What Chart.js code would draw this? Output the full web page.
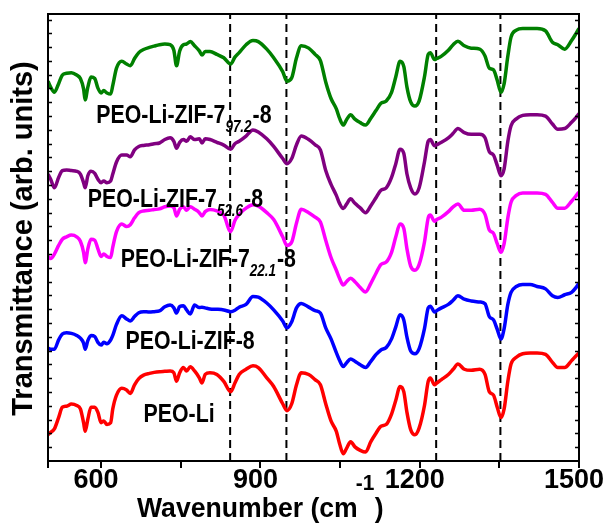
<!DOCTYPE html>
<html>
<head>
<meta charset="utf-8">
<script src="https://cdn.jsdelivr.net/npm/chart.js@4.4.1/dist/chart.umd.min.js"></script>
<style>
  html, body { margin: 0; padding: 0; background: #fff; }
</style>
</head>
<body>
<canvas id="ftir" width="608" height="523"></canvas>
<script>
// wavenumber grid (cm-1) shared by all spectra
const wavenumbers = [
  500, 505, 512, 520, 527, 535, 544, 554, 561, 567,
  570, 575, 581, 588, 594, 600, 605, 611, 618, 622,
  629, 639, 648, 655, 663, 671, 680, 691, 700, 710,
  720, 730, 737, 742, 748, 755, 761, 768, 776, 785,
  790, 796, 805, 818, 831, 844, 852, 860, 873, 886,
  896, 912, 925, 942, 950, 959, 968, 977, 991, 1003,
  1013, 1023, 1033, 1043, 1049, 1056, 1062, 1070, 1078, 1088,
  1098, 1108, 1118, 1127, 1137, 1147, 1155, 1163, 1170, 1176,
  1183, 1191, 1199, 1209, 1216, 1220, 1228, 1232, 1241, 1254,
  1263, 1272, 1284, 1297, 1313, 1323, 1331, 1339, 1346, 1353,
  1359, 1366, 1372, 1382, 1394, 1408, 1421, 1437, 1450, 1460,
  1473, 1486, 1495, 1500
]

// transmittance (arb. units)
const peoLi = [
  125, 132, 142, 175, 205, 208, 214, 210, 200, 160,
  135, 170, 205, 205, 190, 160, 165, 155, 160, 200,
  240, 260, 255, 245, 270, 288, 298, 303, 306, 308,
  309, 310, 305, 280, 305, 320, 310, 322, 310, 290,
  275, 300, 305, 300, 280, 250, 275, 300, 315, 325,
  320, 290, 265, 215, 195, 215, 270, 305, 300, 285,
  270, 215, 165, 135, 100, 70, 85, 105, 90, 80,
  75, 105, 130, 150, 155, 185, 225, 265, 250, 190,
  140, 125, 145, 210, 280, 290, 270, 275, 285, 300,
  315, 330, 315, 312, 315, 300, 250, 240, 205, 175,
  200, 280, 330, 350, 360, 362, 362, 358, 335, 320,
  320, 340, 355, 362
]
const peoLiZif8 = [
  173, 170, 170, 197, 214, 218, 216, 210, 202, 188,
  170, 195, 210, 207, 190, 182, 190, 186, 197, 210,
  242, 267, 258, 252, 265, 276, 279, 278, 279, 281,
  293, 298, 290, 275, 294, 296, 284, 272, 298, 291,
  292, 290, 287, 286, 284, 279, 283, 292, 300, 323,
  321, 304, 284, 252, 232, 250, 290, 303, 292, 282,
  275, 232, 200, 160, 138, 120, 130, 142, 135, 125,
  117, 135, 155, 168, 175, 200, 235, 270, 255, 205,
  165, 157, 172, 230, 290, 295, 278, 282, 290, 300,
  312, 325, 315, 310, 307, 302, 265, 255, 228, 200,
  230, 300, 335, 352, 358, 358, 352, 345, 325, 320,
  328, 335, 350, 362
]
const peoLiZif7_22 = [
  178, 172, 185, 210, 228, 235, 240, 235, 222, 190,
  160, 200, 228, 225, 200, 178, 185, 178, 175, 205,
  250, 272, 265, 270, 290, 305, 310, 312, 314, 316,
  322, 324, 320, 295, 315, 322, 312, 322, 315, 305,
  295, 308, 314, 310, 298, 250, 282, 300, 318, 328,
  324, 305, 285, 235, 210, 220, 275, 315, 305, 292,
  278, 225, 175, 138, 115, 95, 105, 115, 105, 88,
  75, 100, 130, 155, 162, 190, 235, 272, 260, 200,
  150, 138, 155, 220, 290, 298, 280, 285, 292, 308,
  322, 330, 312, 312, 315, 300, 255, 245, 215, 190,
  215, 290, 335, 355, 362, 362, 362, 358, 335, 318,
  318, 338, 355, 365
]
const peoLiZif7_52 = [
  200, 185, 160, 190, 210, 212, 210, 208, 200, 175,
  160, 195, 208, 202, 185, 175, 180, 175, 180, 200,
  235, 255, 255, 250, 270, 280, 283, 285, 288, 290,
  300, 305, 295, 275, 292, 300, 295, 308, 300, 302,
  290, 302, 300, 292, 284, 272, 288, 295, 310, 328,
  322, 302, 280, 245, 230, 245, 285, 310, 300, 285,
  270, 210, 170, 138, 115, 100, 112, 128, 115, 102,
  88, 108, 132, 153, 160, 190, 230, 272, 260, 200,
  160, 142, 160, 235, 295, 300, 282, 285, 292, 305,
  318, 332, 320, 315, 315, 305, 265, 255, 225, 195,
  215, 295, 340, 360, 370, 372, 372, 368, 345, 330,
  332, 350, 365, 375
]
const peoLiZif7_97 = [
  222, 205, 190, 215, 240, 245, 247, 240, 230, 200,
  168, 205, 234, 230, 202, 188, 195, 188, 185, 210,
  260, 280, 272, 267, 288, 305, 314, 320, 324, 328,
  330, 328, 312, 267, 310, 328, 330, 337, 325, 310,
  298, 308, 308, 300, 290, 272, 292, 305, 328, 340,
  337, 315, 290, 250, 222, 232, 290, 325, 318, 300,
  282, 220, 172, 142, 115, 95, 110, 125, 112, 102,
  95, 115, 138, 158, 165, 190, 235, 280, 265, 205,
  162, 150, 165, 235, 300, 305, 285, 288, 295, 312,
  328, 338, 325, 318, 315, 295, 260, 255, 225, 190,
  215, 295, 350, 370, 375, 375, 375, 368, 335, 328,
  315, 340, 362, 375
]

// vertical stacking of the spectra
const series = [
  { values: peoLi, offset: -49, color: '#ff0000' },
  { values: peoLiZif8, offset: 154, color: '#0000ff' },
  { values: peoLiZif7_22, offset: 415, color: '#ff00ff' },
  { values: peoLiZif7_52, offset: 632, color: '#800080' },
  { values: peoLiZif7_97, offset: 879, color: '#008000' }
]

const markerLines = [843, 949, 1231, 1352]
const xTicks = [500, 600, 750, 900, 1050, 1200, 1350, 1500]
const xTickLabels = [600, 900, 1200, 1500]
const yMax = 1296

const curveLabels = [
  { main: 'PEO-Li-ZIF-7', sub: '97.2', tail: '-8', x: 591, y: 980 },
  { main: 'PEO-Li-ZIF-7', sub: '52.6', tail: '-8', x: 575, y: 736 },
  { main: 'PEO-Li-ZIF-7', sub: '22.1', tail: '-8', x: 637, y: 562 },
  { main: 'PEO-Li-ZIF-8', x: 646, y: 325 },
  { main: 'PEO-Li', x: 680, y: 112 }
]

const FONT = '"Liberation Sans", Arial, sans-serif'

const datasets = series.map(s => ({
  data: wavenumbers.map((w, i) => ({ x: w, y: s.offset + s.values[i] })),
  borderColor: s.color,
  borderWidth: 3.5,
  pointRadius: 0,
  cubicInterpolationMode: 'monotone',
  order: 0
}))

markerLines.forEach(w => {
  datasets.push({
    data: [{ x: w, y: 0 }, { x: w, y: yMax }],
    borderColor: '#000',
    borderWidth: 2,
    borderDash: [8, 5],
    pointRadius: 0,
    order: 1
  })
})

function squeezedText(ctx, text, x, y, sx) {
  ctx.save()
  ctx.translate(x, y)
  ctx.scale(sx, 1)
  ctx.fillText(text, 0, 0)
  const w = ctx.measureText(text).width * sx
  ctx.restore()
  return w
}

const decorations = {
  id: 'decorations',
  afterDatasetsDraw(chart) {
    const { ctx, chartArea: a, scales } = chart
    ctx.save()
    ctx.fillStyle = '#000'
    ctx.textBaseline = 'alphabetic'
    ctx.textAlign = 'left'

    // curve labels
    curveLabels.forEach(l => {
      let x = scales.x.getPixelForValue(l.x)
      const y = scales.y.getPixelForValue(l.y)
      ctx.font = `bold 26px ${FONT}`
      x += squeezedText(ctx, l.main, x, y, 0.82)
      if (l.sub) {
        ctx.font = `italic bold 16px ${FONT}`
        x += squeezedText(ctx, l.sub, x, y + 9, 0.84) + 1
        ctx.font = `bold 26px ${FONT}`
        squeezedText(ctx, l.tail, x, y, 0.82)
      }
    })

    // frame
    ctx.strokeStyle = '#000'
    ctx.lineWidth = 2
    ctx.strokeRect(a.left, a.top, a.right - a.left, a.bottom - a.top)

    // inner y ticks on both sides
    ctx.lineWidth = 1.5
    for (let v = 40; v < yMax; v += 40) {
      const py = Math.round(scales.y.getPixelForValue(v)) + 0.5
      ctx.beginPath()
      ctx.moveTo(a.left, py); ctx.lineTo(a.left + 4, py)
      ctx.moveTo(a.right, py); ctx.lineTo(a.right - 4, py)
      ctx.stroke()
    }

    // x axis title with superscript
    ctx.font = `bold 28px ${FONT}`
    let tx = a.left + 89
    tx += squeezedText(ctx, 'Wavenumber (cm', tx, 517, 0.95)
    ctx.font = `bold 22px ${FONT}`
    squeezedText(ctx, '-1', tx - 2, 490, 0.95)
    ctx.font = `bold 28px ${FONT}`
    squeezedText(ctx, ')', tx + 17, 517, 0.95)

    // y axis title
    ctx.translate(24, (a.top + a.bottom) / 2 + 1)
    ctx.rotate(-Math.PI / 2)
    ctx.textAlign = 'center'
    ctx.textBaseline = 'middle'
    ctx.font = `bold 29px ${FONT}`
    ctx.fillText('Transmittance (arb. units)', 0, 0)
    ctx.restore()
  }
}

new Chart(document.getElementById('ftir'), {
  type: 'line',
  data: { datasets },
  options: {
    responsive: false,
    animation: false,
    devicePixelRatio: 1,
    layout: { padding: { left: 48, right: 29, top: 14, bottom: 0 } },
    plugins: { legend: { display: false }, tooltip: { enabled: false } },
    scales: {
      x: {
        type: 'linear',
        min: 500,
        max: 1500,
        afterBuildTicks: s => { s.ticks = xTicks.map(v => ({ value: v })) },
        afterFit: s => { s.height = 62; s.paddingLeft = 0; s.paddingRight = 0 },
        ticks: {
          autoSkip: false,
          maxRotation: 0,
          labelOffset: -5,
          padding: -4,
          color: '#000',
          font: { family: FONT, size: 27, weight: 'bold' },
          callback: v => xTickLabels.includes(v) ? String(v) : ''
        },
        grid: { drawOnChartArea: false, drawTicks: true, tickLength: 7, color: '#000', lineWidth: 2 },
        border: { display: true, color: '#000', width: 2 }
      },
      y: {
        display: false,
        min: 0,
        max: yMax
      }
    }
  },
  plugins: [decorations]
})
</script>
</body>
</html>
